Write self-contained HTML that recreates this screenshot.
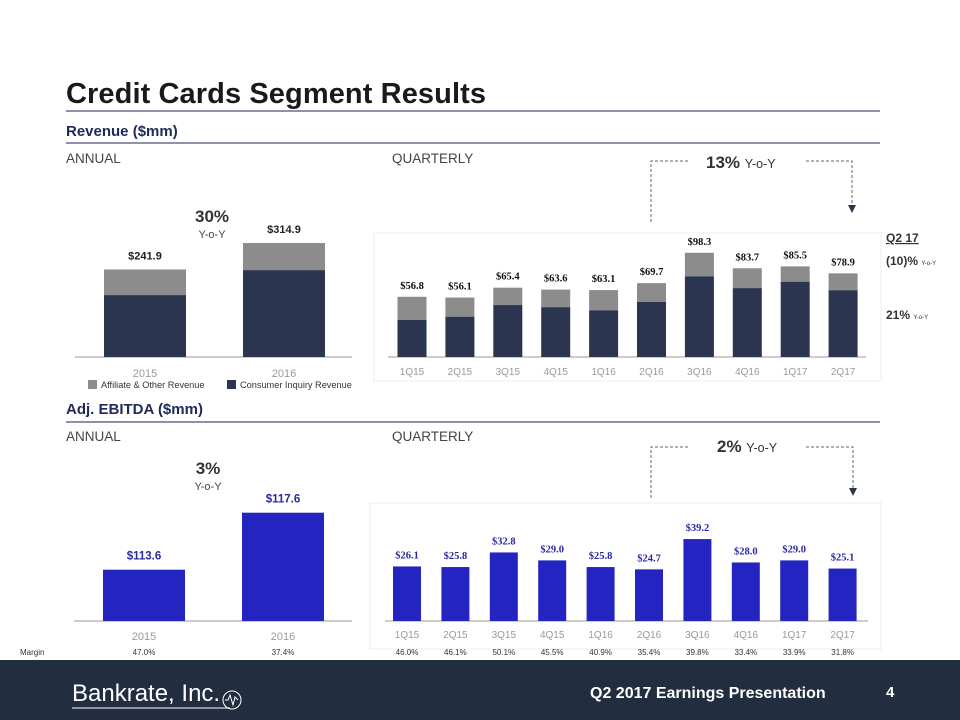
<!DOCTYPE html>
<html><head><meta charset="utf-8"><style>
body{margin:0;width:960px;height:720px;background:#fff;overflow:hidden;font-family:"Liberation Sans",sans-serif}
svg{display:block}
</style></head><body>
<svg width="960" height="720" viewBox="0 0 960 720">
<text x="66" y="103" font-size="29" font-weight="bold" fill="#1a1a1a" textLength="420">Credit Cards Segment Results</text>
<line x1="66" y1="111" x2="880" y2="111" stroke="#1d2450" stroke-width="1"/>
<text x="66" y="136" font-size="15" font-weight="bold" fill="#1d2a5a">Revenue ($mm)</text>
<line x1="66" y1="143" x2="880" y2="143" stroke="#1d2450" stroke-width="1"/>
<text x="66" y="163" font-size="13.5" fill="#444">ANNUAL</text>
<text x="392" y="163" font-size="13.5" fill="#444">QUARTERLY</text>
<text x="66" y="414" font-size="15" font-weight="bold" fill="#1d2a5a">Adj. EBITDA ($mm)</text>
<line x1="66" y1="422" x2="880" y2="422" stroke="#1d2450" stroke-width="1"/>
<text x="66" y="441" font-size="13.5" fill="#444">ANNUAL</text>
<text x="392" y="441" font-size="13.5" fill="#444">QUARTERLY</text>

<rect x="374" y="233" width="507" height="148" fill="none" stroke="#eee"/>
<rect x="370" y="503" width="511" height="146" fill="none" stroke="#eee"/>

<text x="212" y="222" font-size="17" font-weight="bold" fill="#333" text-anchor="middle">30%</text>
<text x="212" y="238" font-size="11" fill="#444" text-anchor="middle">Y-o-Y</text>
<text x="208" y="474" font-size="17" font-weight="bold" fill="#333" text-anchor="middle">3%</text>
<text x="208" y="490" font-size="11" fill="#444" text-anchor="middle">Y-o-Y</text>

<g stroke="#666" stroke-dasharray="3,2" fill="none">
<polyline points="651,222 651,161 690,161"/><polyline points="806,161 852,161 852,205"/>
<polyline points="651,498 651,447 690,447"/><polyline points="806,447 853,447 853,488"/>
</g>
<polygon points="848,205 856,205 852,213" fill="#2b3550"/>
<polygon points="849,488 857,488 853,496" fill="#2b3550"/>
<text x="706" y="168" font-size="17" font-weight="bold" fill="#333">13% <tspan font-size="12.5" font-weight="normal">Y-o-Y</tspan></text>
<text x="717" y="452" font-size="17" font-weight="bold" fill="#333">2% <tspan font-size="12.5" font-weight="normal">Y-o-Y</tspan></text>

<text x="886" y="242" font-size="12" font-weight="bold" fill="#333" text-decoration="underline">Q2 17</text>
<text x="886" y="265" font-size="12" font-weight="bold" fill="#333">(10)% <tspan font-size="6" font-weight="normal">Y-o-Y</tspan></text>
<text x="886" y="319" font-size="12" font-weight="bold" fill="#333">21% <tspan font-size="6" font-weight="normal">Y-o-Y</tspan></text>

<rect x="88" y="380" width="9" height="9" fill="#8c8c8c"/>
<text x="101" y="388" font-size="9.2" fill="#333">Affiliate &amp; Other Revenue</text>
<rect x="227" y="380" width="9" height="9" fill="#2b3550"/>
<text x="240" y="388" font-size="9.2" fill="#333">Consumer Inquiry Revenue</text>

<text x="20" y="655" font-size="8" fill="#333">Margin</text>

<g id="charts"></g>

<rect x="0" y="660" width="960" height="60" fill="#232d40"/>
<text x="72" y="701" font-size="24" fill="#fff">Bankrate, Inc.</text>
<line x1="72" y1="708" x2="230" y2="708" stroke="#fff" stroke-width="1"/>
<circle cx="232" cy="700" r="9" fill="none" stroke="#fff"/>
<polyline points="225,700 228,700 230,695 233,705 235,697 238,700" fill="none" stroke="#fff"/>
<text x="590" y="698" font-size="16" font-weight="bold" fill="#fff">Q2 2017 Earnings Presentation</text>
<text x="886" y="697" font-size="15" font-weight="bold" fill="#fff">4</text>
</svg>
<script>
const annualCats = ["2015","2016"];
const annualConsumer = [171, 240];
const annualTotal = [241.9, 314.9];
const annualTotalLabels = ["$241.9","$314.9"];
const quarters = ["1Q15","2Q15","3Q15","4Q15","1Q16","2Q16","3Q16","4Q16","1Q17","2Q17"];
const qConsumer = [35, 38, 49, 47, 44, 52, 76, 65, 71, 63];
const qTotal = [56.8, 56.1, 65.4, 63.6, 63.1, 69.7, 98.3, 83.7, 85.5, 78.9];
const qTotalLabels = ["$56.8","$56.1","$65.4","$63.6","$63.1","$69.7","$98.3","$83.7","$85.5","$78.9"];
const annualEbitda = [113.6, 117.6];
const annualEbitdaLabels = ["$113.6","$117.6"];
const qEbitda = [26.1, 25.8, 32.8, 29.0, 25.8, 24.7, 39.2, 28.0, 29.0, 25.1];
const qEbitdaLabels = ["$26.1","$25.8","$32.8","$29.0","$25.8","$24.7","$39.2","$28.0","$29.0","$25.1"];
const annualMargins = ["47.0%","37.4%"];
const qMargins = ["46.0%","46.1%","50.1%","45.5%","40.9%","35.4%","39.8%","33.4%","33.9%","31.8%"];

const NS="http://www.w3.org/2000/svg";
const g=document.getElementById('charts');
function mk(tag,attrs,parent){const e=document.createElementNS(NS,tag);for(const k in attrs)e.setAttribute(k,attrs[k]);(parent||g).appendChild(e);return e;}
function txt(x,y,s,size,fill,weight,family){const t=mk('text',{x:x,y:y,'font-size':size,fill:fill,'text-anchor':'middle','font-weight':weight||'normal','font-family':family||'"Liberation Sans",sans-serif'});t.textContent=s;return t;}

const annX=i=>145+i*139;
const annRevY=v=>357-v*0.362;
const qX=i=>412+i*47.9;
const qEbX=i=>407+i*48.4;
const qRevY=v=>357-v*1.06;
const annEbY=v=>621-(v-110)*14.25;
const qEbY=v=>621-v*2.09;

let ax=mk('line',{x1:75,y1:357,x2:352,y2:357,stroke:'#999'});


annualCats.forEach((c,i)=>{
  const x=annX(i), w=82;
  let r=mk('rect',{x:x-w/2,y:annRevY(annualTotal[i]),width:w,height:annRevY(annualConsumer[i])-annRevY(annualTotal[i]),fill:'#8c8c8c'});
  
  
  r=mk('rect',{x:x-w/2,y:annRevY(annualConsumer[i]),width:w,height:357-annRevY(annualConsumer[i]),fill:'#2b3550'});
  
  
  let t=txt(x,annRevY(annualTotal[i])-10,annualTotalLabels[i],11,'#222','bold');
  
  
  t=txt(x,377,c,11,'#999');
  
  
});

ax=mk('line',{x1:388,y1:357,x2:866,y2:357,stroke:'#999'});


quarters.forEach((q,i)=>{
  const x=qX(i), w=29;
  let r=mk('rect',{x:x-w/2,y:qRevY(qTotal[i]),width:w,height:qRevY(qConsumer[i])-qRevY(qTotal[i]),fill:'#8c8c8c'});
  
  
  r=mk('rect',{x:x-w/2,y:qRevY(qConsumer[i]),width:w,height:357-qRevY(qConsumer[i]),fill:'#2b3550'});
  
  
  let t=txt(x,qRevY(qTotal[i])-8,qTotalLabels[i],10.5,'#111','bold','"Liberation Serif",serif');
  
  
  t=txt(x,375,q,10,'#999');
  
  
});

ax=mk('line',{x1:74,y1:621,x2:352,y2:621,stroke:'#999'});


annualCats.forEach((c,i)=>{
  const x=annX(i)-1, w=82;
  let r=mk('rect',{x:x-w/2,y:annEbY(annualEbitda[i]),width:w,height:621-annEbY(annualEbitda[i]),fill:'#2424c0'});
  
  
  let t=txt(x,annEbY(annualEbitda[i])-10,annualEbitdaLabels[i],11.5,'#2a2aa0','bold');
  
  
  t=txt(x,640,c,11,'#999');
  
  
  t=txt(x,655,annualMargins[i],8,'#333');
  
  
});

ax=mk('line',{x1:385,y1:621,x2:868,y2:621,stroke:'#999'});


quarters.forEach((q,i)=>{
  const x=qEbX(i), w=28;
  let r=mk('rect',{x:x-w/2,y:qEbY(qEbitda[i]),width:w,height:621-qEbY(qEbitda[i]),fill:'#2424c0'});
  
  
  let t=txt(x,qEbY(qEbitda[i])-8,qEbitdaLabels[i],10.5,'#2a2aa0','bold','"Liberation Serif",serif');
  
  
  t=txt(x,638,q,10,'#999');
  
  
  t=txt(x,655,qMargins[i],8,'#333');
  
  
});
</script>
</body></html>
